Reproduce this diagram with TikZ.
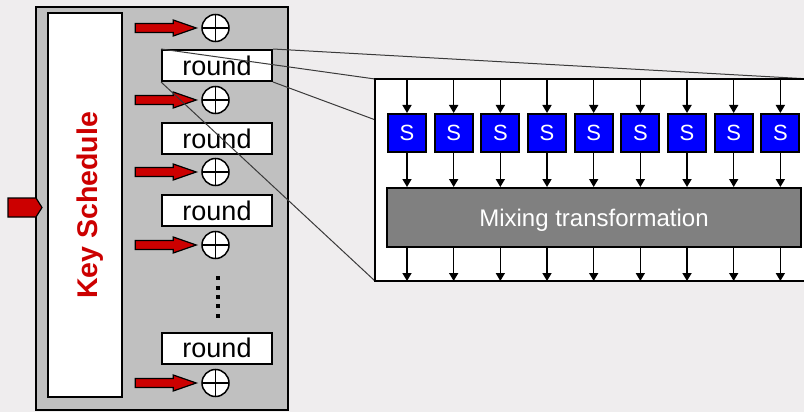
\documentclass[tikz,border=0pt]{standalone}
\usepackage{fontspec}
\setmainfont{Liberation Sans}
\usetikzlibrary{arrows.meta}
\definecolor{bgcol}{HTML}{EFEDEE}
\definecolor{panel}{HTML}{C0C0C0}
\definecolor{keyred}{HTML}{CC0000}
\definecolor{sblue}{HTML}{0000FF}
\definecolor{mixgray}{HTML}{808080}
\definecolor{zoomline}{HTML}{3A3A3A}

\begin{document}
\begin{tikzpicture}[x=1pt,y=-1pt,
  roundbox/.style={draw=black, line width=2pt, fill=white, minimum width=110pt,
    minimum height=31pt, inner sep=0pt, font=\fontsize{27}{30}\selectfont},
  xorc/.style={circle, draw=black, line width=1.5pt, fill=white, minimum size=27pt,
    inner sep=0pt, path picture={\draw[line width=1.2pt]
      (path picture bounding box.north) -- (path picture bounding box.south)
      (path picture bounding box.west) -- (path picture bounding box.east);}},
  sbox/.style={draw=black, line width=2pt, fill=sblue, minimum size=38pt,
    inner sep=0pt, text=white, font=\fontsize{22}{24}\selectfont},
  flow/.style={-{Triangle[length=8pt,width=9pt]}, line width=1.6pt},
  keyarrow/.style={fill=keyred, draw=black, line width=1.2pt, line join=miter},
  zoomedge/.style={draw=zoomline, line width=1pt},
  keyarr/.pic={\path[keyarrow] (-61,-4.5) -- (-23,-4.5) -- (-23,-8) -- (0,0)
      -- (-23,8) -- (-23,4.5) -- (-61,4.5) -- cycle;}]

% canvas
\useasboundingbox (0,0) rectangle (804,412);
\fill[bgcol] (0,0) rectangle (804,412);

% cipher panel
\draw[fill=panel, line width=2pt] (36,7) rectangle (288,410);
\node[draw=black, line width=2pt, fill=white, minimum width=74pt,
  minimum height=384pt, inner sep=0pt] (ks) at (85,205) {};
\node[rotate=90, anchor=base, text=keyred,
  font=\bfseries\fontsize{28.5}{30}\selectfont] (kstext) at (97,205.5) {Key Schedule};

% key input
\path[keyarrow] (8,198) -- (36,198) -- (42,207.5) -- (36,217) -- (8,217) -- cycle;

% round keys and rounds
\node[xorc] (x1) at (215.5,28) {};
\node[xorc] (x2) at (215.5,100) {};
\node[xorc] (x3) at (215.5,172) {};
\node[xorc] (x4) at (215.5,245) {};
\node[xorc] (x5) at (215.5,383) {};
\foreach \k in {1,...,5}
  \pic at ([xshift=-5pt]x\k.west) {keyarr};

\node[roundbox] (r1) at (217,65.5) {round};
\node[roundbox] (r2) at (217,138.5) {round};
\node[roundbox] (r3) at (217,210.5) {round};
\node[roundbox] (r4) at (217,348) {round};

\foreach \y in {278.3,287.7,297,306.3,315.7}
  \fill ({217.7-2},{\y-2}) rectangle +(4,4);

% enlarged view of one round
\node[minimum width=435pt, minimum height=202pt, inner sep=0pt, outer sep=0pt]
  (zbox) at (592.5,180) {};
\draw[zoomedge] (r1.north west) -- (zbox.north west);
\draw[zoomedge] (r1.north east) -- (zbox.north east);
\draw[zoomedge] (r1.south west) -- (zbox.south west);
\draw[zoomedge] (r1.south east) -- (zbox.south east);
\draw[line width=2pt, fill=white] (zbox.north west) rectangle (zbox.south east);

\foreach \i in {0,...,8}
  \node[sbox] (s\i) at ({407+46.67*\i},133) {S};

\node[draw=black, line width=2pt, fill=mixgray, minimum width=414pt,
  minimum height=59pt, inner sep=0pt, text=white, text height=17pt, text depth=0pt,
  font=\fontsize{24}{26}\selectfont] (mix) at (594,217.5) {Mixing transformation};

\foreach \i in {0,...,8} {
  \draw[flow] (s\i.north |- zbox.north) -- (s\i.north);
  \draw[flow] (s\i.south) -- (s\i.south |- mix.north);
  \draw[flow] (s\i.south |- mix.south) -- (s\i.south |- zbox.south);
}
\end{tikzpicture}
\end{document}
